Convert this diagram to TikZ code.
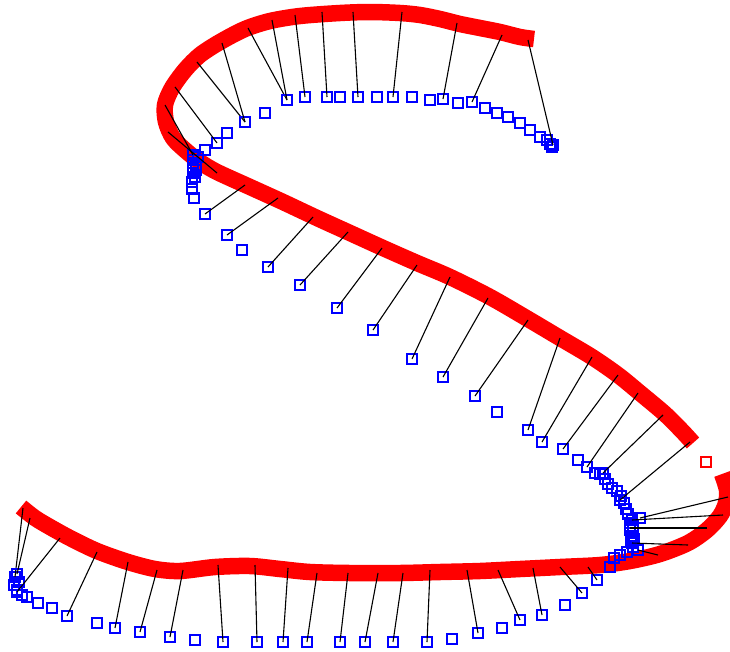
\documentclass[tikz,border=0pt]{standalone}
\usepackage{tikz}
\begin{document}
\begin{tikzpicture}[x=1pt,y=-1pt,
  band/.style={draw=red,line width=16.5pt,line join=round},
  bsq/.style={draw=blue,line width=2.2pt,minimum size=9.5pt,inner sep=0pt,rectangle},
  rsq/.style={draw=red,line width=2.2pt,minimum size=9.5pt,inner sep=0pt,rectangle},
  link/.style={black,line width=1.1pt}]
\useasboundingbox (0,0) rectangle (730,651);
\draw[band] plot[smooth,tension=0.5] coordinates {(534,39) (520,37) (500,32) (480,28) (460,24) (440,19) (420,15) (400,13) (370,12) (340,13) (300,16) (270,21) (245,29) (220,42) (200,55) (185,70) (172,88) (165,105) (166,122) (173,138) (185,150) (200,162) (217,172) (250,187) (283,202) (317,218) (350,233) (383,248) (417,263) (450,277) (490,297) (528,319) (560,338) (592,357) (618,375) (640,393) (665,414) (683,432) (693,443)};
\draw[band] plot[smooth,tension=0.5] coordinates {(722,474) (727,490) (726,503) (720,516) (707,530) (688,543) (660,554) (630,561) (600,565) (560,567) (520,569) (480,571) (440,572) (400,573) (350,573) (310,572) (280,569) (250,566) (215,567) (180,571) (155,569) (128,562) (97,551) (70,538) (50,527) (35,518) (21,507)};
\node[rsq] (lone) at (706,462) {};
\foreach \bx/\by in {227/133,205/150,198/157,193/160,193/163,196/165,193/168,196/170,193/173,195/177,192/182,192/189,194/198,
  265/113,340/97,377/97,412/97,430/100,458/103,485/108,497/113,508/117,520/123,530/130,540/137,547/140,550/144,552/147,
  242/250,497/412,578/460,595/473,600/474,605/479,608/484,612/488,617/491,621/496,624/503,626/509,628/514,
  630/523,633/526,630/530,633/533,631/536,634/539,631/541,633/547,627/552,620/555,614/558,610/567,
  565/605,502/628,452/639,195/640,97/623,52/608,38/603,27/597,22/595,14/585,17/590,19/582}
  \node[bsq] at (\bx,\by) {};
\foreach \bx/\by/\rx/\ry [count=\i] in {193/155/165/105,217/143/175/87,245/122/197/62,245/122/222/43,
  287/100/248/28,287/100/272/20,305/97/295/15,327/97/322/12,358/97/353/12,393/97/402/12,443/99/457/23,
  472/102/502/35,553/145/528/40,205/214/245/185,227/235/278/198,268/267/313/217,300/285/348/232,
  337/308/382/248,373/330/417/265,412/359/450/277,443/377/488/298,475/396/528/320,528/430/560/338,
  542/442/592/357,563/449/618/375,587/467/638/393,603/473/663/415,620/500/690/442,640/518/728/497,
  632/520/723/515,630/528/707/528,632/543/688/545,638/550/658/555,597/580/588/567,582/593/560/567,
  542/615/533/568,520/620/498/570,478/633/467/570,427/642/430/570,393/642/403/573,365/642/378/573,
  340/642/348/573,307/642/317/573,283/642/288/568,257/642/255/565,223/642/218/565,170/637/183/570,
  140/632/157/570,115/628/128/562,67/616/97/552,17/592/60/538,15/577/23/508,17/574/30/518}
{
  \node[bsq] (b\i) at (\bx,\by) {};
  \coordinate (r\i) at (\rx,\ry);
  \draw[link] (b\i.center) -- (r\i);
}
\coordinate (ra) at (168,132);
\coordinate (rb) at (217,173);
\draw[link] (ra) -- (rb);
\end{tikzpicture}
\end{document}
